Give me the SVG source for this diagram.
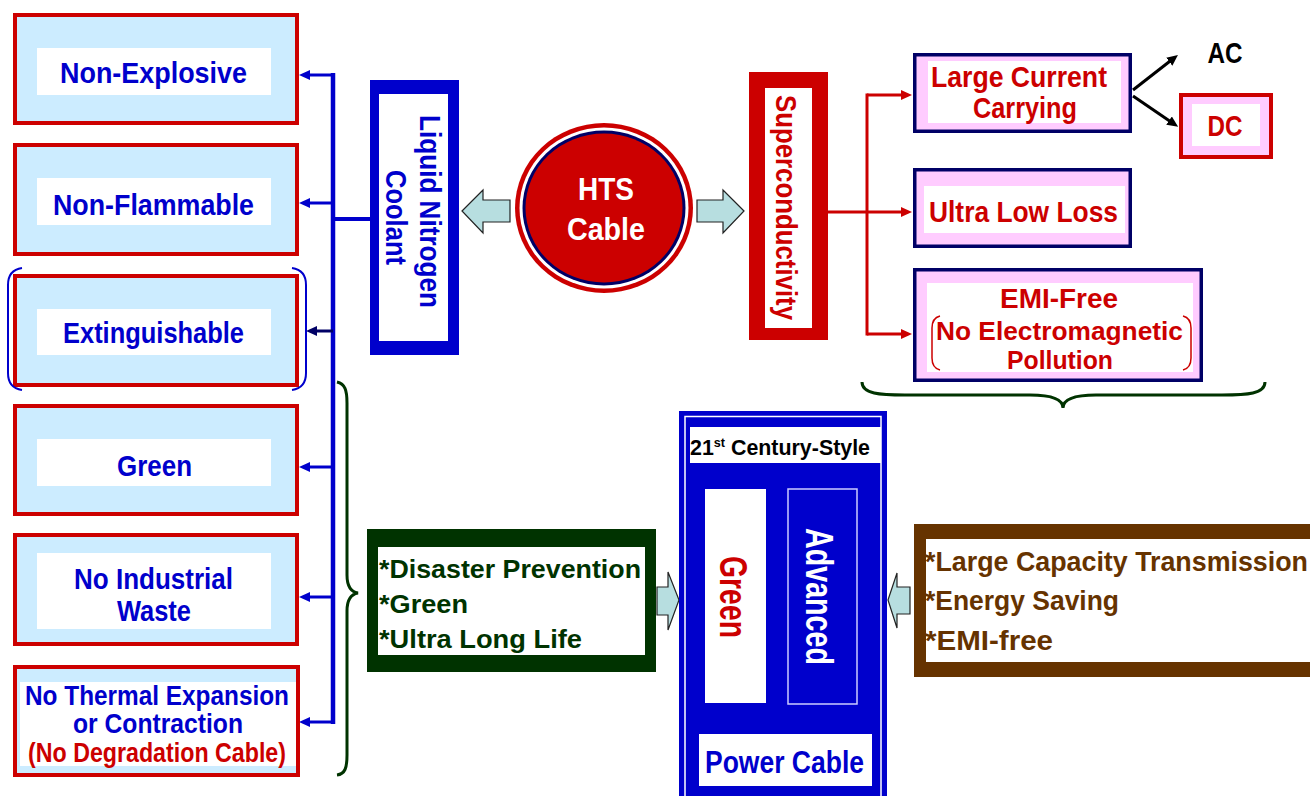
<svg xmlns="http://www.w3.org/2000/svg" width="1310" height="796" viewBox="0 0 1310 796">
<style>
text{font-family:"Liberation Sans",Arial,sans-serif;font-weight:bold;}
.lb{fill:#CCECFF;stroke:#CC0000;stroke-width:4;}
.wh{fill:#FFFFFF;}
.pk{fill:#FFCCFF;stroke:#000066;stroke-width:3.5;}
.tb{fill:#0000CC;font-size:30px;text-anchor:middle;}
.tr{fill:#CC0000;font-size:30px;text-anchor:middle;}
.bl{fill:none;stroke:#0000CC;stroke-width:3;}
.rl{fill:none;stroke:#CC0000;stroke-width:3;}
.blk{fill:#B7DEE0;stroke:#222222;stroke-width:1.2;}
.br{fill:none;stroke:#003300;stroke-width:3;}
</style>
<defs>
<marker id="ab" markerUnits="userSpaceOnUse" markerWidth="12" markerHeight="11" refX="6" refY="5" orient="auto"><path d="M0,0 L11,5 L0,10 Z" fill="#0000CC"/></marker>
<marker id="an" markerUnits="userSpaceOnUse" markerWidth="12" markerHeight="11" refX="6" refY="5" orient="auto"><path d="M0,0 L11,5 L0,10 Z" fill="#000066"/></marker>
<marker id="ar" markerUnits="userSpaceOnUse" markerWidth="12" markerHeight="11" refX="6" refY="5" orient="auto"><path d="M0,0 L11,5 L0,10 Z" fill="#CC0000"/></marker>
<marker id="ak" markerUnits="userSpaceOnUse" markerWidth="12" markerHeight="11" refX="6" refY="5" orient="auto"><path d="M0,0 L11,5 L0,10 Z" fill="#000000"/></marker>
</defs>

<g id="connectors">
  <path d="M333,73 V724" fill="none" stroke="#0000CC" stroke-width="4.5"/>
  <path class="bl" d="M335,75 H304" marker-end="url(#ab)"/>
  <path class="bl" d="M333,203 H304" marker-end="url(#ab)"/>
  <path d="M333,331 H311" fill="none" stroke="#000066" stroke-width="3" marker-end="url(#an)"/>
  <path class="bl" d="M333,467 H304" marker-end="url(#ab)"/>
  <path class="bl" d="M333,597 H304" marker-end="url(#ab)"/>
  <path class="bl" d="M335,722 H304" marker-end="url(#ab)"/>
  <path d="M333,219 H371" fill="none" stroke="#0000CC" stroke-width="4"/>
  <path class="blk" d="M462,211 L483,190 L483,200 L510,200 L510,222 L483,222 L483,233 Z"/>
  <path class="blk" d="M744,211 L723,190 L723,200 L697,200 L697,222 L723,222 L723,233 Z"/>
  <path class="rl" d="M867,95 V334" stroke-linecap="square"/>
  <path class="rl" d="M867,95 H907" marker-end="url(#ar)"/>
  <path class="rl" d="M828,212 H907" marker-end="url(#ar)"/>
  <path class="rl" d="M867,334 H907" marker-end="url(#ar)"/>
  <path d="M1133,90 L1174,58" fill="none" stroke="#000" stroke-width="3" marker-end="url(#ak)"/>
  <path d="M1133,96 L1174,124" fill="none" stroke="#000" stroke-width="3" marker-end="url(#ak)"/>
  <path class="blk" d="M679,600 L668,572 L668,587 L657,587 L657,615 L668,615 L668,630 Z"/>
  <path class="blk" d="M888,600 L897,573 L897,587 L910,587 L910,614 L897,614 L897,628 Z"/>
  <path class="br" d="M337,382 C345,384 347,390 347,403 V575 C347,587 352,592 358,593 C352,594 347,599 347,611 V755 C347,768 345,774 337,775"/>
  <path class="br" d="M862,382 C862,394 880,395 905,395 H1030 C1055,395 1063,400 1063,408 C1063,400 1071,395 1096,395 H1222 C1247,395 1265,394 1265,382"/>
</g>

<g id="non-explosive">
  <rect class="lb" x="15" y="15" width="282" height="108"/>
  <rect class="wh" x="37" y="48" width="234" height="47"/>
  <text class="tb" x="153.5" y="83" textLength="187" lengthAdjust="spacingAndGlyphs">Non-Explosive</text>
</g>
<g id="non-flammable">
  <rect class="lb" x="15" y="145" width="282" height="109"/>
  <rect class="wh" x="37" y="178" width="234" height="47"/>
  <text class="tb" x="153.5" y="215" textLength="201" lengthAdjust="spacingAndGlyphs">Non-Flammable</text>
</g>
<g id="extinguishable">
  <rect class="lb" x="15" y="276" width="282" height="109"/>
  <rect class="wh" x="37" y="309" width="234" height="46"/>
  <text class="tb" x="153.5" y="343" textLength="181" lengthAdjust="spacingAndGlyphs">Extinguishable</text>
  <path d="M22,268 Q8,270 8,285 V373 Q8,388 22,390" fill="none" stroke="#0000CC" stroke-width="2"/>
  <path d="M292,268 Q306,270 306,285 V373 Q306,388 292,390" fill="none" stroke="#0000CC" stroke-width="2"/>
</g>
<g id="green-left">
  <rect class="lb" x="15" y="406" width="282" height="108"/>
  <rect class="wh" x="37" y="439" width="234" height="47"/>
  <text class="tb" x="154.5" y="476" textLength="75" lengthAdjust="spacingAndGlyphs">Green</text>
</g>
<g id="no-industrial-waste">
  <rect class="lb" x="15" y="535" width="282" height="109"/>
  <rect class="wh" x="37" y="553" width="234" height="76"/>
  <text class="tb" x="153.5" y="589" textLength="159" lengthAdjust="spacingAndGlyphs">No Industrial</text>
  <text class="tb" x="154" y="621" textLength="74" lengthAdjust="spacingAndGlyphs">Waste</text>
</g>
<g id="no-thermal-expansion">
  <rect class="lb" x="15" y="667" width="283" height="108"/>
  <rect class="wh" x="20" y="682" width="276" height="84"/>
  <text class="tb" x="157" y="705" style="font-size:28px" textLength="264" lengthAdjust="spacingAndGlyphs">No Thermal Expansion</text>
  <text class="tb" x="158" y="733" style="font-size:28px" textLength="170" lengthAdjust="spacingAndGlyphs">or Contraction</text>
  <text class="tr" x="157" y="762" style="font-size:28px" textLength="258" lengthAdjust="spacingAndGlyphs">(No Degradation Cable)</text>
</g>

<g id="liquid-nitrogen-coolant">
  <rect x="370" y="80" width="89" height="275" fill="#0000CC"/>
  <rect class="wh" x="379" y="94" width="69" height="247"/>
  <text class="tb" transform="translate(420,211.5) rotate(90)" textLength="193" lengthAdjust="spacingAndGlyphs">Liquid Nitrogen</text>
  <text class="tb" transform="translate(386,217.5) rotate(90)" textLength="95" lengthAdjust="spacingAndGlyphs">Coolant</text>
</g>

<g id="hts-cable">
  <ellipse cx="604" cy="208" rx="89" ry="85" fill="#CC0000"/>
  <ellipse cx="604" cy="208" rx="84.5" ry="80.5" fill="#FFFFFF"/>
  <ellipse cx="604" cy="208" rx="81.5" ry="77.5" fill="#000066"/>
  <ellipse cx="604" cy="208" rx="78.5" ry="74.5" fill="#CC0000"/>
  <text x="606" y="200" fill="#FFFFFF" style="font-size:32px;text-anchor:middle" textLength="56" lengthAdjust="spacingAndGlyphs">HTS</text>
  <text x="606" y="240" fill="#FFFFFF" style="font-size:32px;text-anchor:middle" textLength="78" lengthAdjust="spacingAndGlyphs">Cable</text>
</g>

<g id="superconductivity">
  <rect x="749" y="72" width="79" height="268" fill="#CC0000"/>
  <rect class="wh" x="765" y="88" width="47" height="240"/>
  <text class="tr" transform="translate(776,207.5) rotate(90)" textLength="225" lengthAdjust="spacingAndGlyphs">Superconductivity</text>
</g>

<g id="large-current-carrying">
  <rect class="pk" x="914.75" y="54.75" width="215.5" height="76.5"/>
  <rect class="wh" x="928" y="61" width="193" height="62"/>
  <text class="tr" x="1019" y="87" textLength="176" lengthAdjust="spacingAndGlyphs">Large Current</text>
  <text class="tr" x="1025" y="118" textLength="104" lengthAdjust="spacingAndGlyphs">Carrying</text>
</g>
<g id="ac">
  <text x="1225" y="63" fill="#000000" style="font-size:30px;text-anchor:middle" textLength="35" lengthAdjust="spacingAndGlyphs">AC</text>
</g>
<g id="dc">
  <rect x="1181" y="95" width="90" height="62" fill="#FFCCFF" stroke="#CC0000" stroke-width="4"/>
  <rect class="wh" x="1192" y="104" width="68" height="42"/>
  <text class="tr" x="1225" y="136" textLength="35" lengthAdjust="spacingAndGlyphs">DC</text>
</g>
<g id="ultra-low-loss">
  <rect class="pk" x="914.75" y="169.75" width="215.5" height="76.5"/>
  <rect class="wh" x="924" y="186" width="201" height="47"/>
  <text class="tr" x="1023.5" y="222" textLength="189" lengthAdjust="spacingAndGlyphs">Ultra Low Loss</text>
</g>
<g id="emi-free">
  <rect class="pk" x="914.75" y="269.75" width="286.5" height="110.5"/>
  <rect class="wh" x="927" y="283" width="266" height="89"/>
  <text class="tr" x="1059" y="308" style="font-size:28px" textLength="118" lengthAdjust="spacingAndGlyphs">EMI-Free</text>
  <text class="tr" x="1059.5" y="340" style="font-size:26px" textLength="247" lengthAdjust="spacingAndGlyphs">No Electromagnetic</text>
  <text class="tr" x="1060" y="369" style="font-size:25px" textLength="106" lengthAdjust="spacingAndGlyphs">Pollution</text>
  <path d="M940,316 Q932,318 932,328 V358 Q932,368 940,370" fill="none" stroke="#CC0000" stroke-width="1.5"/>
  <path d="M1183,316 Q1191,318 1191,328 V358 Q1191,368 1183,370" fill="none" stroke="#CC0000" stroke-width="1.5"/>
</g>

<g id="disaster-prevention">
  <rect x="367" y="529" width="289" height="143" fill="#003300"/>
  <rect class="wh" x="378" y="547" width="267" height="108"/>
  <text x="379" y="578" fill="#003300" style="font-size:26px" textLength="262" lengthAdjust="spacingAndGlyphs">*Disaster Prevention</text>
  <text x="379" y="613" fill="#003300" style="font-size:26px" textLength="89" lengthAdjust="spacingAndGlyphs">*Green</text>
  <text x="379" y="648" fill="#003300" style="font-size:26px" textLength="203" lengthAdjust="spacingAndGlyphs">*Ultra Long Life</text>
</g>

<g id="power-cable-21st">
  <rect x="679" y="411" width="208" height="400" fill="#0000CC"/>
  <rect x="685" y="416.5" width="196" height="400" fill="none" stroke="#FFFFFF" stroke-width="1.5"/>
  <rect class="wh" x="690" y="427" width="191" height="36"/>
  <text x="690" y="455" fill="#000000" style="font-size:22px" textLength="180" lengthAdjust="spacingAndGlyphs">21<tspan dy="-8" style="font-size:13px">st</tspan><tspan dy="8"> Century-Style</tspan></text>
  <rect class="wh" x="705" y="489" width="61" height="214"/>
  <text class="tr" transform="translate(720,597) rotate(90)" style="font-size:38px" textLength="82" lengthAdjust="spacingAndGlyphs">Green</text>
  <rect x="788" y="489" width="69" height="215" fill="#0000CC" stroke="#CCCCFF" stroke-width="1.5"/>
  <text transform="translate(806,596.5) rotate(90)" fill="#FFFFFF" style="font-size:38px;text-anchor:middle" textLength="137" lengthAdjust="spacingAndGlyphs">Advanced</text>
  <rect class="wh" x="699" y="734" width="173" height="52"/>
  <text class="tb" x="784.5" y="773" style="font-size:31px" textLength="159" lengthAdjust="spacingAndGlyphs">Power Cable</text>
</g>

<g id="large-capacity">
  <rect x="914" y="524" width="400" height="153" fill="#663300"/>
  <rect class="wh" x="926" y="539" width="390" height="123"/>
  <text x="925" y="571" fill="#663300" style="font-size:27px" textLength="383" lengthAdjust="spacingAndGlyphs">*Large Capacity Transmission</text>
  <text x="925" y="610" fill="#663300" style="font-size:27px" textLength="194" lengthAdjust="spacingAndGlyphs">*Energy Saving</text>
  <text x="925" y="650" fill="#663300" style="font-size:27px" textLength="128" lengthAdjust="spacingAndGlyphs">*EMI-free</text>
</g>
</svg>
